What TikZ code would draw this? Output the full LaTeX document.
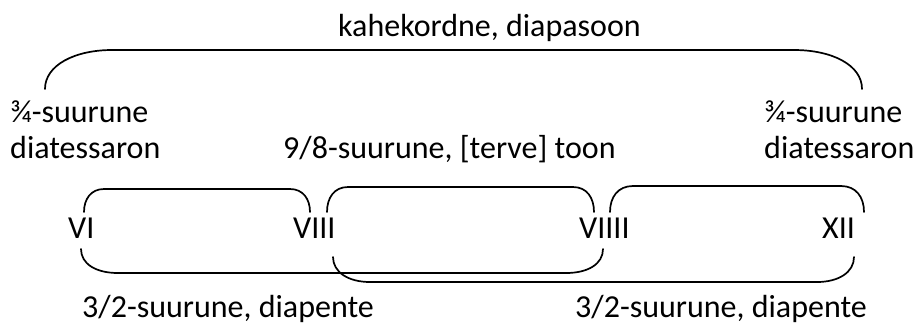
\documentclass[tikz,border=0pt]{standalone}
\usepackage{fontspec}
\setmainfont{Carlito}
\begin{document}
\begin{tikzpicture}[x=1pt,y=-1pt,
  lbl/.style={inner sep=0pt,anchor=base west,font=\fontsize{32}{38}\selectfont},
  brk/.style={line width=1.7pt,line cap=round}]
\useasboundingbox (0,0) rectangle (917,325);
% texts
\node[lbl,anchor=base] (top) at (489.5,36) {kahekordne, diapasoon};
\node[lbl] (l1) at (10,122) {¾-suurune};
\node[lbl] (l2) at (10,158) {diatessaron};
\node[lbl] (mid) at (283,158) {9/8-suurune, [terve] toon};
\node[lbl] (r1) at (764,122) {¾-suurune};
\node[lbl] (r2) at (764,158) {diatessaron};
\node[lbl] (vi) at (68,238) {VI};
\node[lbl] (viii) at (293,238) {VIII};
\node[lbl] (viiii) at (579,238) {VIIII};
\node[lbl] (xii) at (822,238) {XII};
\node[lbl] (b1) at (82,317) {3/2-suurune, diapente};
\node[lbl] (b2) at (575,317) {3/2-suurune, diapente};
% top brace
\coordinate (tA) at (45,89);
\coordinate (tB) at (862,89);
\draw[brk] (tA) .. controls (45,65) and (75,50) .. (112,50) -- (794,50)
  .. controls (832,50) and (862,65) .. (tB);
% upper brackets
\draw[brk] (84,212) .. controls (84,199) and (91,189) .. (104,189) -- (290,189)
  .. controls (303,189) and (310,199) .. (310,212);
\draw[brk] (327,212) .. controls (327,198) and (334,187) .. (348,187) -- (573,187)
  .. controls (587,187) and (594,198) .. (594,212);
\draw[brk] (610,212) .. controls (610,197) and (618,186) .. (633,186) -- (841,186)
  .. controls (856,186) and (864,197) .. (864,212);
% lower brackets
\draw[brk] (81,249) .. controls (81,264) and (96,273) .. (118,273) -- (566,273)
  .. controls (588,273) and (603,264) .. (603,249);
\draw[brk] (333,257) .. controls (333,272) and (348,282) .. (370,282) -- (817,282)
  .. controls (839,282) and (854,272) .. (854,257);
\end{tikzpicture}
\end{document}
